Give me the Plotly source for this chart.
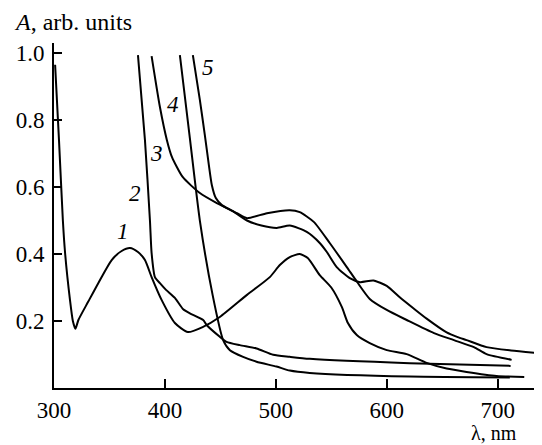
import plotly.graph_objects as go

# Wavelength (nm) and absorbance (arb. units)
c1_x = [301, 304.5, 308, 310, 314.4, 317, 319.3, 322, 330.9, 339.9, 352, 361, 368.5, 375.7, 382, 388,
        397, 409, 420.7, 434, 449.5, 474, 494.6, 503.6, 512.6, 521.6, 528.8, 539.6, 550, 559.5,
        565, 573, 584.7, 600, 618, 636, 654, 672, 699, 724]
c1_y = [0.965, 0.74, 0.50, 0.403, 0.263, 0.20, 0.177, 0.203, 0.258, 0.313, 0.382, 0.409, 0.418, 0.406,
        0.382, 0.331, 0.263, 0.194, 0.167, 0.182, 0.212, 0.278, 0.331, 0.367, 0.391, 0.40, 0.388,
        0.337, 0.30, 0.242, 0.194, 0.158, 0.134, 0.113, 0.101, 0.075, 0.058, 0.048, 0.036, 0.033]

c2_x = [375.7, 382, 386.5, 388, 391, 395.5, 401, 409, 416.5, 422.5, 434.5, 437.6, 449.5, 455.6,
        467.6, 482.6, 497.6, 512.6, 530.6, 620.7, 711.7]
c2_y = [0.994, 0.74, 0.50, 0.403, 0.331, 0.313, 0.293, 0.269, 0.235, 0.223, 0.203, 0.188, 0.153,
        0.138, 0.128, 0.118, 0.099, 0.093, 0.087, 0.074, 0.066]

c3_x = [388, 395.5, 401.8, 406.3, 416, 431.5, 446.8, 464.9, 474, 492, 512.6, 521.6, 534.2, 548.6,
        564, 573, 584.7, 600, 618, 642.6, 660.6, 678.6, 690, 712.6]
c3_y = [0.991, 0.839, 0.74, 0.69, 0.63, 0.582, 0.552, 0.522, 0.507, 0.522, 0.531, 0.525, 0.496,
        0.433, 0.361, 0.318, 0.266, 0.233, 0.203, 0.164, 0.143, 0.122, 0.101, 0.084]

c4_x = [413.5, 422.5, 431.5, 443, 452.5, 458.6, 470.5, 482.6, 500.6, 512.6, 530.6, 620.7, 711]
c4_y = [0.994, 0.746, 0.50, 0.278, 0.143, 0.113, 0.093, 0.0785, 0.064, 0.052, 0.045, 0.034, 0.031]

c5_x = [425.2, 431.5, 436, 439.6, 442.3, 445.9, 451.4, 461.3, 474, 487, 500.9, 512.6, 527.9, 539.6,
        546, 554.9, 566.7, 576, 588, 600, 612, 624, 636, 654, 664, 672, 690, 712, 738]
c5_y = [0.994, 0.86, 0.755, 0.666, 0.606, 0.567, 0.546, 0.528, 0.50, 0.485, 0.478, 0.485, 0.466,
        0.433, 0.406, 0.361, 0.328, 0.316, 0.321, 0.305, 0.27, 0.238, 0.207, 0.166, 0.152, 0.143,
        0.122, 0.112, 0.104]

curve_labels = ["1", "2", "3", "4", "5"]
label_x = [362.2, 373, 392.8, 407.2, 438.7]
label_y = [0.466, 0.582, 0.699, 0.845, 0.958]

x_ticks = [300, 400, 500, 600, 700]
y_ticks = [0.2, 0.4, 0.6, 0.8, 1.0]
y_ticktext = ["0.2", "0.4", "0.6", "0.8", "1.0"]

FONT = "Liberation Serif"
FS = 24
TFS = 23

fig = go.Figure()
for xs, ys in [(c1_x, c1_y), (c2_x, c2_y), (c3_x, c3_y), (c4_x, c4_y), (c5_x, c5_y)]:
    fig.add_trace(go.Scatter(x=xs, y=ys, mode="lines",
                             line=dict(color="black", width=2, shape="spline", smoothing=0.6),
                             hoverinfo="skip"))

for t, lx, ly in zip(curve_labels, label_x, label_y):
    fig.add_annotation(x=lx, y=ly, text=f"<i>{t}</i>", showarrow=False,
                       font=dict(family=FONT, size=23, color="black"))

fig.add_annotation(xref="paper", yref="paper", x=-0.086, y=1.062, xanchor="left", yanchor="middle",
                   text="<i>A</i>, arb. units", showarrow=False,
                   font=dict(family=FONT, size=FS, color="black"))
fig.add_annotation(xref="paper", yref="paper", x=0.951, y=-0.165, xanchor="right", yanchor="bottom",
                   text="λ, nm", showarrow=False, borderpad=0,
                   font=dict(family=FONT, size=20, color="black"))

# page body has an 8px margin, so the figure is drawn 8px smaller and offset
fig.update_layout(
    width=534, height=437, autosize=False,
    margin=dict(l=46, r=0, t=35, b=57),
    plot_bgcolor="white", paper_bgcolor="white",
    showlegend=False,
    font=dict(family=FONT, size=FS, color="black"),
)
fig.update_xaxes(range=[300, 740], showline=True, linecolor="black", linewidth=2,
                 ticks="inside", ticklen=9, tickwidth=1.5, tickcolor="black",
                 tickvals=x_ticks, showgrid=False, zeroline=False, ticklabelstandoff=0,
                 tickfont=dict(family=FONT, size=TFS, color="black"))
fig.update_yaxes(range=[0, 1.03], showline=True, linecolor="black", linewidth=2,
                 ticks="inside", ticklen=8, tickwidth=1.5, tickcolor="black",
                 tickvals=y_ticks, ticktext=y_ticktext, showgrid=False, zeroline=False,
                 ticklabelstandoff=3,
                 tickfont=dict(family=FONT, size=TFS, color="black"))

fig.write_html("out.html")
